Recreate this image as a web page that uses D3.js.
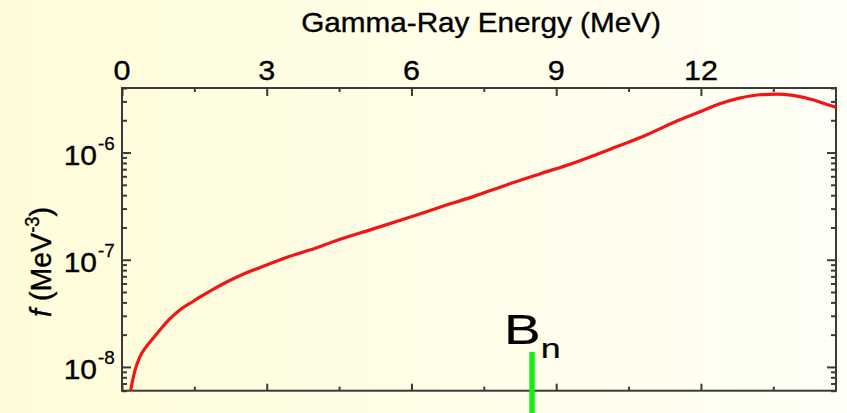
<!DOCTYPE html>
<html>
<head>
<meta charset="utf-8">
<script src="https://cdn.jsdelivr.net/npm/d3@7"></script>
<style>
  html, body { margin: 0; padding: 0; }
  body { width: 847px; height: 413px; overflow: hidden; }
  svg { display: block; font-family: "Liberation Sans", Arial, Helvetica, sans-serif; }
</style>
</head>
<body>
<svg id="chart" width="847" height="413"></svg>
<script>
// Gamma-ray strength function f(E) versus gamma-ray energy
const energyMeV = [0.17, 0.27, 0.37, 0.51, 0.65, 0.79, 0.99, 1.2, 1.48, 1.62, 1.89, 2.17, 2.58, 3.0,
  3.41, 3.89, 4.52, 5.21, 5.9, 6.59, 7.28, 7.97, 8.66, 9.35, 10.18, 10.87, 11.56, 11.97,
  12.39, 12.8, 13.22, 13.56, 13.91, 14.32, 14.7, 14.8];
const strength = [5.8e-9, 9.3e-9, 1.24e-8, 1.56e-8, 1.86e-8, 2.22e-8, 2.8e-8, 3.4e-8, 4.1e-8, 4.5e-8,
  5.3e-8, 6.2e-8, 7.56e-8, 8.92e-8, 1.05e-7, 1.23e-7, 1.55e-7, 1.94e-7, 2.44e-7, 3.09e-7,
  3.88e-7, 4.99e-7, 6.32e-7, 7.96e-7, 1.10e-6, 1.46e-6, 2.02e-6, 2.39e-6, 2.85e-6, 3.22e-6,
  3.46e-6, 3.51e-6, 3.41e-6, 3.11e-6, 2.73e-6, 2.65e-6];

const xMajorTicks = [0, 3, 6, 9, 12];
const xMinorTicks = [1.5, 4.5, 7.5, 10.5, 13.5];
const yDecades = [-8, -7, -6];
const bnEnergy = 8.5;   // neutron separation energy
const bnLabel = ["B", "n"];
const xTitle = "Gamma-Ray Energy (MeV)";

const svg = d3.select("#chart");
const W = 847, H = 413;
const plot = { left: 122, right: 836, top: 88, bottom: 390.7 };

// background wash
const defs = svg.append("defs");
const grad = defs.append("linearGradient").attr("id", "bg").attr("x1", 0).attr("x2", 1).attr("y1", 0).attr("y2", 0);
grad.append("stop").attr("offset", "0%").attr("stop-color", "#fefcd8");
grad.append("stop").attr("offset", "100%").attr("stop-color", "#fffff6");
svg.append("rect").attr("width", W).attr("height", H).attr("fill", "url(#bg)");

defs.append("clipPath").attr("id", "plotClip").append("rect")
  .attr("x", plot.left).attr("y", plot.top)
  .attr("width", plot.right - plot.left).attr("height", plot.bottom - plot.top);

const x = d3.scaleLinear().domain([0, 14.8]).range([plot.left, plot.right]);
const y = d3.scaleLog().domain([6e-9, 4e-6]).range([plot.bottom, plot.top]);

const axisColor = "#3a3a3a";

// minor log ticks (2..9 per decade) inside the domain
const yMinor = [];
for (let d = -9; d <= -6; d++) {
  for (let m = 2; m <= 9; m++) {
    const v = m * Math.pow(10, d);
    if (v >= y.domain()[0] && v <= y.domain()[1]) yMinor.push(v);
  }
}
const yMajor = yDecades.map(d => Math.pow(10, d));

// inward ticks on all four sides via d3 axes
const tickStyle = g => {
  g.select(".domain").remove();
  g.selectAll("line").attr("stroke", axisColor).attr("stroke-width", 2);
  g.selectAll("text").remove();
};
svg.append("g").attr("transform", `translate(0,${plot.top})`)
  .call(d3.axisBottom(x).tickValues(xMajorTicks).tickSize(8)).call(tickStyle);
svg.append("g").attr("transform", `translate(0,${plot.top})`)
  .call(d3.axisBottom(x).tickValues(xMinorTicks).tickSize(4)).call(tickStyle);
svg.append("g").attr("transform", `translate(0,${plot.bottom})`)
  .call(d3.axisTop(x).tickValues(xMajorTicks).tickSize(7)).call(tickStyle);
svg.append("g").attr("transform", `translate(0,${plot.bottom})`)
  .call(d3.axisTop(x).tickValues(xMinorTicks).tickSize(4)).call(tickStyle);
svg.append("g").attr("transform", `translate(${plot.left},0)`)
  .call(d3.axisRight(y).tickValues(yMajor).tickSize(9)).call(tickStyle);
svg.append("g").attr("transform", `translate(${plot.left},0)`)
  .call(d3.axisRight(y).tickValues(yMinor).tickSize(5)).call(tickStyle);
svg.append("g").attr("transform", `translate(${plot.right},0)`)
  .call(d3.axisLeft(y).tickValues(yMajor).tickSize(9)).call(tickStyle);
svg.append("g").attr("transform", `translate(${plot.right},0)`)
  .call(d3.axisLeft(y).tickValues(yMinor).tickSize(5)).call(tickStyle);

// frame
svg.append("rect")
  .attr("x", plot.left).attr("y", plot.top)
  .attr("width", plot.right - plot.left).attr("height", plot.bottom - plot.top)
  .attr("fill", "none").attr("stroke", axisColor).attr("stroke-width", 2);

// text helper: slightly widened glyphs, with a hairline stroke for weight
function label(parent, px, py, sx, size, anchor) {
  return parent.append("g").attr("transform", `translate(${px},${py}) scale(${sx},1)`)
    .append("text").attr("text-anchor", anchor).attr("font-size", size)
    .attr("fill", "#000").attr("stroke", "#000").attr("stroke-width", 0.35);
}

// top tick labels
xMajorTicks.forEach(t => label(svg, x(t), 80, 1.09, 28, "middle").text(t));

// top axis title
label(svg, (plot.left + plot.right) / 2 + 2, 32, 1.1, 27, "middle").text(xTitle);

// left tick labels: 10 with exponent
yDecades.forEach(d => {
  const ty = y(Math.pow(10, d));
  label(svg, 97, ty + 12.5, 1.07, 28, "end").text("10");
  label(svg, 98, ty - 2.5, 1.05, 18, "start").attr("stroke-width", 0.25).text(d);
});

// y axis title, rotated
const yTitle = svg.append("text")
  .attr("transform", "translate(51,262) rotate(-90) scale(1.02,1.08)")
  .attr("text-anchor", "middle").attr("font-size", 28).attr("fill", "#000")
  .attr("stroke", "#000").attr("stroke-width", 0.35);
yTitle.append("tspan").attr("font-style", "italic").text("f");
yTitle.append("tspan").text(" (MeV");
yTitle.append("tspan").attr("font-size", 18).attr("dy", -11).text("-3");
yTitle.append("tspan").attr("dy", 11).text(")");

// strength function curve
const pts = energyMeV.map((e, i) => [e, strength[i]]);
const line = d3.line().x(d => x(d[0])).y(d => y(d[1])).curve(d3.curveMonotoneX);
svg.append("path").attr("clip-path", "url(#plotClip)")
  .attr("d", line(pts)).attr("fill", "none")
  .attr("stroke", "#f01616").attr("stroke-width", 3.2)
  .attr("stroke-linejoin", "round").attr("stroke-linecap", "round");

// neutron separation energy marker
svg.append("line")
  .attr("x1", x(bnEnergy)).attr("x2", x(bnEnergy))
  .attr("y1", 352).attr("y2", H)
  .attr("stroke", "#16ee16").attr("stroke-width", 5.5);
const bn = label(svg, 504, 343.5, 1.28, 43, "start").attr("stroke-width", 0.2);
bn.append("tspan").text(bnLabel[0]);
bn.append("tspan").attr("font-size", 28).attr("dy", 14).text(bnLabel[1]);
</script>
</body>
</html>
